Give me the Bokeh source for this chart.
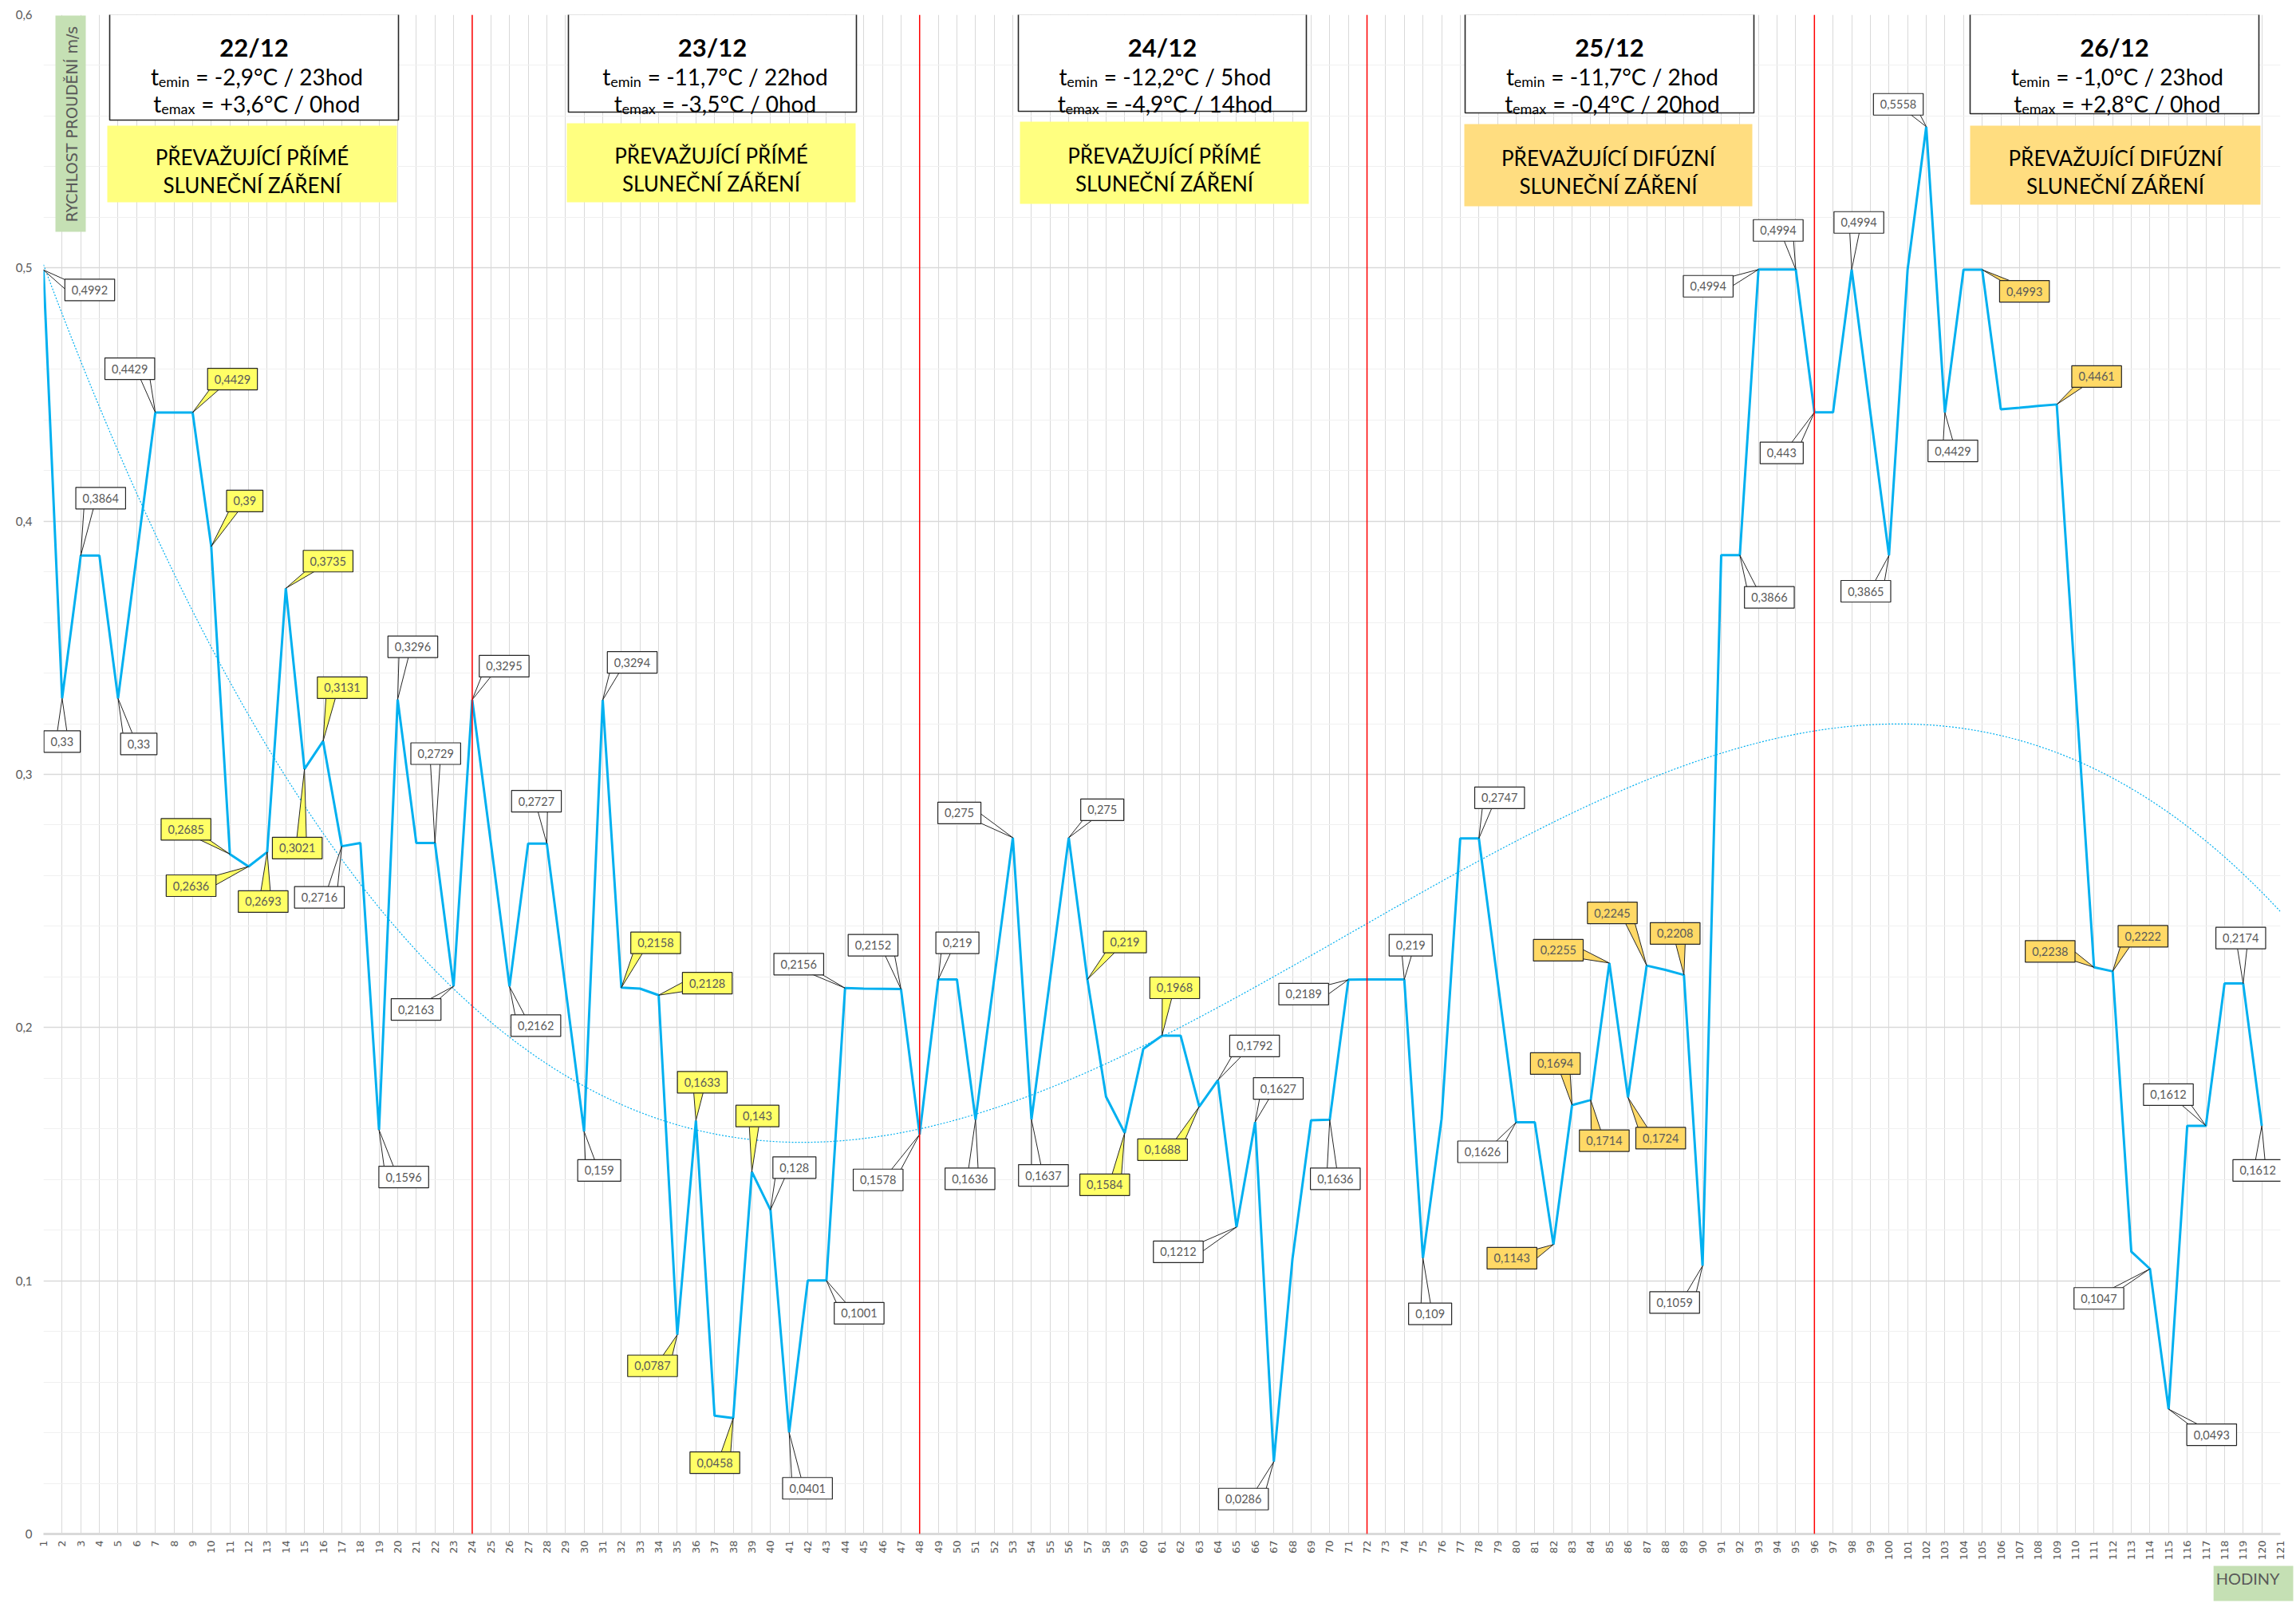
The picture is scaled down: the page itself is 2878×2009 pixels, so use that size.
import math
import numpy as np
from bokeh.plotting import figure
from bokeh.models import Range1d, FixedTicker, Span, Title, ColumnDataSource
from bokeh.embed import file_html
from bokeh.resources import INLINE
from bokeh.core.properties import value

# ---------------- data ----------------
hours = list(range(1, 121))
speed = [
    0.4992, 0.33, 0.3864, 0.3864, 0.33, 0.3864, 0.4429, 0.4429, 0.4429, 0.39,
    0.2685, 0.2636, 0.2693, 0.3735, 0.3021, 0.3131, 0.2716, 0.2729, 0.1596, 0.3296,
    0.2729, 0.2729, 0.2163, 0.3295, 0.2729, 0.2162, 0.2727, 0.2727, 0.2158, 0.159,
    0.3294, 0.2158, 0.2154, 0.2128, 0.0787, 0.1633, 0.0467, 0.0458, 0.143, 0.128,
    0.0401, 0.1001, 0.1001, 0.2156, 0.2154, 0.2153, 0.2152, 0.1578, 0.219, 0.219,
    0.1636, 0.2193, 0.275, 0.1637, 0.2193, 0.275, 0.219, 0.1727, 0.1584, 0.1916,
    0.1968, 0.1968, 0.1688, 0.1792, 0.1212, 0.1627, 0.0286, 0.1086, 0.1634, 0.1636,
    0.2189, 0.219, 0.219, 0.219, 0.109, 0.1639, 0.2747, 0.2747, 0.2186, 0.1626,
    0.1626, 0.1143, 0.1694, 0.1714, 0.2255, 0.1724, 0.2245, 0.2228, 0.2208, 0.1059,
    0.3866, 0.3866, 0.4994, 0.4994, 0.4994, 0.443, 0.443, 0.4994, 0.443, 0.3865,
    0.4994, 0.5558, 0.4429, 0.4993, 0.4993, 0.4442, 0.4448, 0.4455, 0.4461, 0.335,
    0.2238, 0.2222, 0.1115, 0.1047, 0.0493, 0.1612, 0.1612, 0.2174, 0.2174, 0.1612,
]
x_ticks = list(range(1, 122))
y_ticks = [0, 0.1, 0.2, 0.3, 0.4, 0.5, 0.6]
y_tick_labels = ["0", "0,1", "0,2", "0,3", "0,4", "0,5", "0,6"]
day_boundaries = [24, 48, 72, 96]

day_names = ["22/12", "23/12", "24/12", "25/12", "26/12"]
tmin_text = ["-2,9°C / 23hod", "-11,7°C / 22hod", "-12,2°C / 5hod", "-11,7°C / 2hod", "-1,0°C / 23hod"]
tmax_text = ["+3,6°C / 0hod", "-3,5°C / 0hod", "-4,9°C / 14hod", "-0,4°C / 20hod", "+2,8°C / 0hod"]
radiation_l1 = ["PŘEVAŽUJÍCÍ PŘÍMÉ", "PŘEVAŽUJÍCÍ PŘÍMÉ", "PŘEVAŽUJÍCÍ PŘÍMÉ",
                "PŘEVAŽUJÍCÍ DIFÚZNÍ", "PŘEVAŽUJÍCÍ DIFÚZNÍ"]
radiation_l2 = ["SLUNEČNÍ ZÁŘENÍ"] * 5
radiation_kind = ["direct", "direct", "direct", "diffuse", "diffuse"]

y_title = "RYCHLOST PROUDĚNÍ m/s"
x_title = "HODINY"

# labelled points: hour and callout style (w = white, y = yellow, o = orange)
label_hours = [1, 2, 3, 5, 7, 9, 10, 11, 12, 13, 14, 15, 16, 17, 19, 20, 22, 23, 24, 26,
               28, 30, 31, 32, 34, 35, 36, 38, 39, 40, 41, 43, 44, 47, 48, 49, 51, 53, 54, 56,
               57, 59, 61, 63, 64, 65, 66, 67, 70, 71, 74, 75, 78, 80, 82, 83, 84, 85, 86, 87,
               89, 90, 92, 93, 95, 96, 98, 100, 102, 103, 105, 109, 111, 112, 114, 115, 117, 119, 120]
label_styles = ["w", "w", "w", "w", "w", "y", "y", "y", "y", "y", "y", "y", "y", "w", "w", "w", "w", "w", "w", "w",
                "w", "w", "w", "y", "y", "y", "y", "y", "y", "w", "w", "w", "w", "w", "w", "w", "w", "w", "w", "w",
                "y", "y", "y", "y", "w", "w", "w", "w", "w", "w", "w", "w", "w", "w", "o", "o", "o", "o", "o", "o",
                "o", "w", "w", "w", "w", "w", "w", "w", "w", "w", "o", "o", "o", "o", "w", "w", "w", "w", "w"]

# ---------------- layout (pixels) ----------------
label_offsets = [(58, 25), (0, 54), (25, -72), (26, 57), (-32, -55), (50, -42), (42, -57), (-55, -31),
                 (-72, 24), (-5, 62), (53, -34), (-9, 99), (24, -67), (-28, 64), (31, 59), (19, -66),
                 (1, -112), (-47, 29), (40, -42), (33, 49), (-13, -53), (19, 49), (37, -47), (43, -56),
                 (61, -15), (-31, 39), (8, -48), (-23, 56), (7, -70), (30, -53), (23, 70), (41, 41),
                 (-58, -30), (-35, -55), (-52, 57), (24, -46), (-7, 74), (-67, -31), (15, 70), (42, -35),
                 (47, -47), (-25, 65), (16, -60), (-46, 54), (46, -43), (-73, 31), (29, -42), (-38, 47),
                 (7, 74), (-56, 18), (8, -43), (9, 70), (26, -51), (-42, 37), (-52, 17), (-21, -52),
                 (17, 51), (-64, -16), (41, 51), (-43, -66), (-11, -52), (-35, 46), (37, 53), (-63, 21),
                 (-22, -49), (-41, 51), (9, -59), (-29, 45), (-35, -28), (10, 48), (53, 27), (50, -35),
                 (-55, -20), (38, -44), (-64, 37), (54, 32), (-47, -39), (-3, -57), (-5, 56)]
hdr_boxes = [(137, 499, 17, 150), (712, 1073, 17, 140), (1276, 1637, 17, 139),
             (1836, 2198, 17, 141), (2469, 2831, 17, 142)]
rad_boxes = [(134, 497, 157, 253), (710, 1072, 154, 253), (1278, 1640, 152, 255),
             (1835, 2196, 155, 258), (2469, 2833, 157, 256)]

W, H = 2878, 2009
PX0, PX1 = 54.0, 2858.0      # canvas px of plot frame
PY0, PY1 = 18.0, 1922.0
XMIN, XMAX, YMIN, YMAX = 1, 121, 0.0, 0.6


def dx(px):
    return XMIN + (px - PX0) * (XMAX - XMIN) / (PX1 - PX0)


def dy(py):
    return YMAX - (py - PY0) * (YMAX - YMIN) / (PY1 - PY0)


def ppx(x):
    return PX0 + (x - XMIN) * (PX1 - PX0) / (XMAX - XMIN)


def ppy(y):
    return PY0 + (YMAX - y) * (PY1 - PY0) / (YMAX - YMIN)


LATO_EM = {'0': .58, '1': .58, '2': .58, '3': .58, '4': .58, '5': .58, '6': .58, '7': .58, '8': .58,
           '9': .58, ' ': .193, '=': .58, '-': .37, '+': .58, ',': .23, '°': .40, 'C': .66, '/': .39,
           'h': .57, 'o': .57, 'd': .57, 't': .35, 'e': .53, 'm': .86, 'i': .24, 'n': .57, 'a': .51, 'x': .50}


def tw(s, size):
    return sum(LATO_EM.get(c, .58) for c in s) * size


FONT = "Lato"
GRAY = "#595959"
LINE_BLUE = "#00B0F0"

p = figure(width=W, height=H, output_backend="svg", toolbar_location=None,
           x_range=Range1d(XMIN, XMAX), y_range=Range1d(YMIN, YMAX),
           min_border_left=int(PX0), min_border_right=int(W - PX1),
           min_border_top=int(PY0), min_border_bottom=int(H - PY1))
p.outline_line_color = None
p.background_fill_color = "white"
p.border_fill_color = "white"

p.xaxis.ticker = FixedTicker(ticks=x_ticks)
p.xaxis.major_label_orientation = math.pi / 2
p.xaxis.major_label_text_font = "DejaVu Sans"
p.xaxis.major_label_text_font_size = "13px"
p.xaxis.major_label_text_color = GRAY
p.xaxis.major_label_standoff = 8
p.xaxis.axis_line_color = "#D9D9D9"
p.xaxis.axis_line_width = 3
p.xaxis.major_tick_line_color = None
p.xaxis.minor_tick_line_color = None
p.xaxis.major_tick_out = 0
p.xaxis.major_tick_in = 0
p.xaxis.minor_tick_out = 0
p.xaxis.minor_tick_in = 0
p.xaxis.axis_label_standoff = 0

p.yaxis.ticker = FixedTicker(ticks=y_ticks, minor_ticks=[i * 0.02 for i in range(31)])
overrides = {}
for t, lab in zip(y_ticks, y_tick_labels):
    overrides[t] = lab
    overrides[str(t)] = lab
p.yaxis.major_label_overrides = overrides
p.yaxis.major_label_text_font = FONT
p.yaxis.major_label_text_font_size = "15px"
p.yaxis.major_label_text_color = GRAY
p.yaxis.major_label_standoff = 14
p.yaxis.axis_line_color = None
p.yaxis.major_tick_line_color = None
p.yaxis.minor_tick_line_color = None
p.yaxis.major_tick_out = 0
p.yaxis.minor_tick_out = 0

p.xgrid.grid_line_color = "#D9D9D9"
p.xgrid.grid_line_width = 1
p.ygrid.grid_line_color = "#D9D9D9"
p.ygrid.grid_line_width = 1.3
p.ygrid.minor_grid_line_color = "#F0F0F0"
p.ygrid.minor_grid_line_width = 1

for b in day_boundaries:
    p.add_layout(Span(location=b, dimension="height", line_color="#FF0000", line_width=1.5))

# ---- header boxes ----
hl, hr, ht, hb = zip(*hdr_boxes)
p.quad(left=[dx(v) for v in hl], right=[dx(v) for v in hr], top=[dy(v) for v in ht],
       bottom=[dy(v) for v in hb], fill_color="white", line_color="#262626", line_width=1.6)
rl, rr, rt, rb = zip(*rad_boxes)
rad_fill = ["#FFFF80" if k == "direct" else "#FFDD80" for k in radiation_kind]
p.quad(left=[dx(v) for v in rl], right=[dx(v) for v in rr], top=[dy(v) for v in rt],
       bottom=[dy(v) for v in rb], fill_color=rad_fill, line_color=None)

hx = [(a + b) / 2 for a, b in zip(hl, hr)]
p.text(x=[dx(v) for v in hx], y=[dy(58)] * 5, text=day_names, text_align="center",
       text_baseline="alphabetic", text_font=value(FONT), text_font_style="bold",
       text_font_size="31px", text_color="black")

pieces = {"x": [], "y": [], "t": [], "s": []}
for i, cx in enumerate(hx):
    for base, sub, val in ((95, "emin", tmin_text[i]), (129, "emax", tmax_text[i])):
        main = "= " + val
        wt, ws, gap, wm = tw("t", 28), tw(sub, 18), 7, tw(main, 28)
        x0 = cx - (wt + ws + gap + wm) / 2
        pieces["x"] += [dx(x0), dx(x0 + wt), dx(x0 + wt + ws + gap)]
        pieces["y"] += [dy(base), dy(base + 6), dy(base)]
        pieces["t"] += ["t", sub, main]
        pieces["s"] += ["28px", "18px", "28px"]
p.text(x="x", y="y", text="t", text_font_size="s", source=ColumnDataSource(pieces),
       text_align="left", text_baseline="alphabetic", text_font=value(FONT), text_color="black")

rcx = [(a + b) / 2 for a, b in zip(rl, rr)]
rcy = [(a + b) / 2 for a, b in zip(rt, rb)]
p.text(x=[dx(v) for v in rcx] * 2, y=[dy(v - 9) for v in rcy] + [dy(v + 26) for v in rcy],
       text=radiation_l1 + radiation_l2, text_align="center", text_baseline="alphabetic",
       text_font=value(FONT), text_font_size="26px", text_color="black")

# ---- y title box ----
p.quad(left=[dx(69)], right=[dx(107)], top=[dy(19)], bottom=[dy(290)],
       fill_color="#C5E0B4", line_color=None)
p.text(x=[dx(89)], y=[dy(155)], text=[y_title], angle=math.pi / 2, text_align="center",
       text_baseline="middle", text_font=value("DejaVu Sans"), text_font_size="19px",
       text_color=GRAY)

# ---- series ----
p.line(hours, speed, line_color=LINE_BLUE, line_width=3)
coef = np.polyfit(hours, speed, 3)
xt = np.linspace(XMIN, XMAX, 600)
p.line(xt, np.polyval(coef, xt), line_color=LINE_BLUE, line_width=1.2, line_dash="2 2")

# ---- callouts ----
FILL = {"w": "white", "y": "#FFFF66", "o": "#FFD966"}
wx, wy, wf = [], [], []
bl, br, bt, bb, bf = [], [], [], [], []
tx, ty, tt = [], [], []
for h, st, (ox, oy) in zip(label_hours, label_styles, label_offsets):
    v = speed[h - 1]
    txt = ("%g" % v).replace(".", ",")
    px, py = ppx(h), ppy(v)
    cx, cy = px + ox, py + oy
    w = tw(txt, 14.5) + 17
    hh = 27
    ddx, ddy = px - cx, py - cy
    base = 12
    if abs(ddx) * hh > abs(ddy) * w:
        sx = cx + math.copysign(w / 2 - 1, ddx)
        lim = hh / 2 - base / 2 - 1
        bc = cy + max(-lim, min(lim, ddy * 0.3))
        pts = [(sx, bc - base / 2), (px, py), (sx, bc + base / 2)]
    else:
        sy = cy + math.copysign(hh / 2 - 1, ddy)
        lim = w / 2 - base / 2 - 3
        bc = cx + max(-lim, min(lim, ddx * 0.6))
        pts = [(bc - base / 2, sy), (px, py), (bc + base / 2, sy)]
    wx.append([dx(a) for a, _ in pts])
    wy.append([dy(b) for _, b in pts])
    wf.append(FILL[st])
    bl.append(dx(cx - w / 2)); br.append(dx(cx + w / 2))
    bt.append(dy(cy - hh / 2)); bb.append(dy(cy + hh / 2)); bf.append(FILL[st])
    tx.append(dx(cx)); ty.append(dy(cy)); tt.append(txt)

p.patches(xs=wx, ys=wy, fill_color=wf, line_color="#262626", line_width=1)
p.quad(left=bl, right=br, top=bt, bottom=bb, fill_color=bf, line_color="#262626", line_width=1.2)
p.text(x=tx, y=ty, text=tt, text_align="center", text_baseline="middle",
       text_font=value(FONT), text_font_size="14.5px", text_color=GRAY)

# ---- x title ----
p.add_layout(Title(text=x_title, align="right", text_font=FONT, text_font_size="20px",
                   text_font_style="normal", text_color=GRAY,
                   background_fill_color="#C5E0B4", padding=(3, 17, 3, 17),
                   standoff=4, offset=-16), "below")

open("out.html", "w").write(file_html(p, INLINE))
